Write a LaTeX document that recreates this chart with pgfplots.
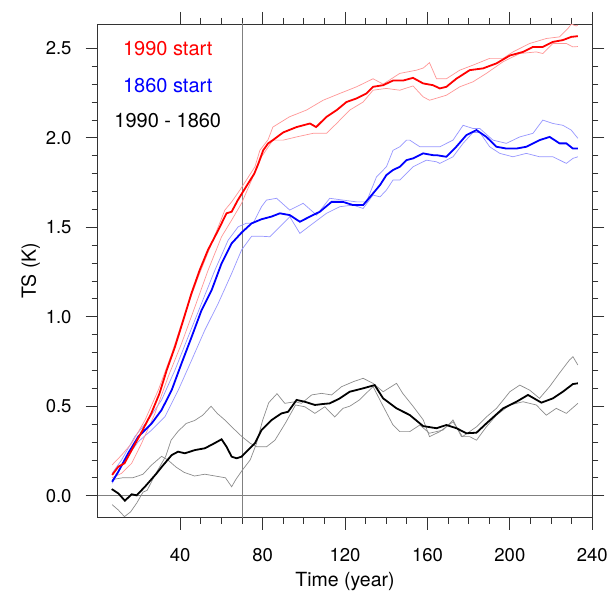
\documentclass[border=0pt]{standalone}
\usepackage{fontspec}
\setmainfont{TeX Gyre Heros}
\usepackage{pgfplots}
\pgfplotsset{compat=1.18}
\definecolor{lred}{RGB}{255,150,150}
\definecolor{lblue}{RGB}{150,150,255}
\definecolor{lgray}{RGB}{140,140,140}
\begin{document}
\begin{tikzpicture}
\useasboundingbox (-97.7pt,-74.3pt) rectangle (512.3pt,517.7pt);
\begin{axis}[
  at={(0pt,0pt)}, anchor=south west,
  scale only axis, width=494.6pt, height=493.7pt,
  xmin=0, xmax=240, ymin=-0.123, ymax=2.636,
  xtick={40,80,...,240}, minor x tick num=3,
  ytick={0,0.5,...,2.5}, minor y tick num=4,
  tick align=outside, major tick length=12pt, minor tick length=6pt,
  axis line style={black!80, line width=0.8pt},
  every tick/.style={black!80, line width=0.8pt},
  /pgf/number format/assume math mode=true,
  yticklabel style={/pgf/number format/fixed, /pgf/number format/fixed zerofill, /pgf/number format/precision=1, font=\fontsize{18.5}{20}\selectfont, anchor=east, inner sep=0pt, xshift=-14pt},
  xticklabel style={font=\fontsize{18.5}{20}\selectfont, anchor=base, inner sep=0pt, yshift=-32pt},
  xlabel={Time (year)}, ylabel={TS (K)},
  every axis x label/.style={at={(axis description cs:0.5,0)}, anchor=base, font=\fontsize{19.5}{22}\selectfont, yshift=-69pt},
  every axis y label/.style={at={(axis description cs:0,0.5)}, anchor=center, rotate=90, font=\fontsize{19.5}{22}\selectfont, yshift=67pt},
  clip=true,
]
% reference lines
\addplot[black!50, line width=0.6pt] coordinates {(0,0) (240,0)};
\addplot[black!50, line width=0.6pt] coordinates {(70,-0.2) (70,2.7)};

% black thin
\addplot[lgray, line width=0.7pt] coordinates {
(7,-0.05) (10,-0.08) (13,-0.117) (16,-0.09) (19,-0.04) (22,0.02) (24,0.03) (28,0.12) (30,0.16) (33,0.22) (35.6,0.31) (39,0.36) (43,0.404) (47,0.42) (51,0.45) (55,0.5) (58,0.46) (62,0.42) (65,0.385) (70,0.33) (74,0.293) (77,0.274) (82,0.274) (86,0.31) (91,0.404) (96,0.507) (100.5,0.497) (105.4,0.46) (110.2,0.497) (115,0.44) (119,0.488) (122.3,0.5) (127,0.535) (133.6,0.61) (138.5,0.5) (143.3,0.395) (146.6,0.358) (151.4,0.358) (156.3,0.395) (161,0.349) (167.6,0.367) (172.4,0.423) (176.5,0.33) (180.5,0.33) (183.8,0.31) (188.6,0.385) (193.5,0.45) (200,0.507) (206.4,0.525) (212.8,0.507) (217.7,0.45) (222.5,0.488) (227.4,0.46) (233,0.516)};
\addplot[lgray, line width=0.7pt] coordinates {
(7,0.09) (12,0.1) (17,0.1) (22,0.12) (26,0.17) (31,0.22) (34,0.2) (38,0.16) (42,0.13) (47,0.11) (52,0.12) (57,0.11) (62,0.1) (65,0.05) (67,0.09) (70,0.14) (74,0.2) (77,0.29) (80,0.42) (83,0.52) (87,0.57) (90.8,0.516) (95.7,0.525) (98.9,0.516) (103.8,0.563) (108.6,0.572) (113.5,0.563) (118.3,0.609) (124,0.637) (128.8,0.656) (133.6,0.628) (138.5,0.581) (145,0.628) (148,0.572) (153,0.5) (158,0.423) (161,0.33) (166,0.358) (172.4,0.413) (177,0.33) (183.8,0.385) (188.6,0.44) (193.5,0.488) (200,0.581) (204.8,0.618) (209.6,0.59) (214.4,0.544) (219.3,0.61) (224,0.684) (228.9,0.758) (230.6,0.777) (233,0.73)};

% blue thin
\addplot[lblue, line width=0.7pt] coordinates {
(7,0.125) (11.6,0.2) (18,0.33) (24.5,0.423) (31,0.535) (37.5,0.702) (43.9,0.888) (50.4,1.075) (56.9,1.261) (63.3,1.428) (68.2,1.503) (72,1.522) (75.4,1.522) (79.5,1.615) (81.9,1.652) (86.8,1.662) (93.2,1.596) (99.7,1.634) (106.2,1.568) (112.6,1.662) (119,1.652) (125.6,1.642) (130.4,1.642) (135.3,1.782) (140.1,1.838) (143.3,1.93) (146.6,1.95) (149.8,1.987) (151.4,1.987) (156.3,1.95) (162.7,1.95) (166,1.95) (172.4,1.987) (177.3,2.07) (182.1,2.052) (185.4,2.052) (191.8,1.987) (198.3,1.969) (204.8,2.005) (211.2,2.025) (216,2.099) (220.9,2.08) (225.7,2.07) (229.8,2.043) (233,1.997)};
\addplot[lblue, line width=0.7pt] coordinates {
(7,0.069) (13.2,0.2) (19.7,0.302) (26.2,0.367) (32.6,0.441) (39.1,0.59) (45.6,0.758) (52,0.926) (58.5,1.075) (65,1.242) (69.8,1.373) (74.7,1.45) (79.5,1.45) (83.5,1.447) (88.4,1.503) (93.2,1.559) (98.1,1.466) (104.5,1.522) (111,1.578) (117.5,1.615) (123.9,1.624) (128.8,1.605) (133.6,1.68) (137,1.67) (140.1,1.708) (143.3,1.764) (146.6,1.764) (153,1.838) (159.5,1.875) (164.4,1.866) (166,1.857) (172.4,1.894) (177.3,1.969) (182.1,2.03) (185.4,2.03) (190.2,1.95) (195.1,1.913) (201.5,1.894) (208,1.913) (214.4,1.894) (220.9,1.894) (227.4,1.857) (230.6,1.885) (233,1.894)};

% red thin
\addplot[lred, line width=0.7pt] coordinates {
(7,0.172) (11.6,0.227) (16.5,0.293) (23,0.423) (29.4,0.59) (36,0.796) (42.3,1.019) (48.8,1.223) (55.3,1.41) (61.7,1.596) (65,1.642) (69,1.708) (76.3,1.838) (78.7,1.93) (82.7,1.99) (85,2.06) (93,2.117) (101.3,2.155) (109.4,2.21) (117.5,2.248) (125.6,2.285) (133.6,2.33) (138.5,2.30) (146.6,2.36) (154.7,2.378) (158,2.39) (161,2.42) (164.4,2.33) (169.2,2.33) (175.7,2.378) (182.1,2.406) (190.2,2.444) (196.7,2.444) (201.5,2.48) (209.6,2.527) (217.7,2.555) (224.1,2.564) (228.2,2.611) (229.8,2.635) (232.2,2.625) (233,2.63)};
\addplot[lred, line width=0.7pt] coordinates {
(7,0.1) (11.6,0.125) (16.5,0.181) (21.3,0.293) (27.8,0.46) (34.2,0.665) (40.7,0.851) (47.2,1.056) (53.6,1.261) (60.1,1.447) (65,1.54) (69.8,1.634) (74.7,1.764) (79.5,1.894) (85,1.987) (90,1.987) (96.5,2.005) (104.5,2.025) (111,2.025) (115.9,2.08) (122.3,2.155) (128.8,2.2) (133.6,2.266) (140,2.276) (146.6,2.266) (153,2.29) (157.9,2.229) (161,2.21) (164,2.22) (169.2,2.238) (175.7,2.285) (182.1,2.313) (188.6,2.36) (196.7,2.425) (204.8,2.471) (212.8,2.48) (216,2.471) (220.9,2.527) (227.4,2.527) (230.6,2.508) (233,2.51)};

% black thick
\addplot[black, line width=1.8pt] coordinates {
(6.8,0.037) (10,0.013) (13.2,-0.028) (16.5,0.008) (18.9,0.002) (22.9,0.05) (28.6,0.125) (31,0.16) (35.9,0.227) (39,0.246) (42.3,0.237) (47.2,0.255) (52,0.265) (56,0.289) (60.1,0.315) (62.5,0.274) (65,0.218) (67.4,0.209) (69.8,0.218) (73,0.255) (76.3,0.293) (79.5,0.367) (84.4,0.423) (89.2,0.46) (92.4,0.469) (96.5,0.535) (100.5,0.525) (105.4,0.507) (109,0.512) (112.6,0.516) (117.5,0.544) (122.3,0.581) (128.8,0.6) (134.4,0.618) (138.5,0.544) (145,0.488) (151.4,0.451) (157.9,0.389) (164.4,0.377) (169.2,0.395) (174.1,0.377) (178.9,0.349) (183.8,0.352) (188.6,0.404) (196.7,0.488) (203.2,0.525) (208.8,0.563) (215.3,0.52) (220.9,0.544) (225.7,0.581) (230.6,0.624) (233,0.628)};

% blue thick
\addplot[blue, line width=1.8pt] coordinates {
(7,0.078) (10,0.134) (14.8,0.237) (19.7,0.33) (26.2,0.404) (31,0.479) (35.9,0.59) (40.7,0.74) (45.6,0.888) (50.4,1.037) (55.3,1.149) (60.1,1.298) (65,1.41) (69.8,1.47) (74.7,1.522) (79.5,1.545) (84.4,1.56) (88.4,1.578) (93.2,1.568) (98.1,1.531) (102.9,1.559) (107.8,1.587) (113.5,1.642) (119,1.642) (123.9,1.624) (128.8,1.624) (133.6,1.689) (137,1.736) (140.1,1.792) (143.3,1.82) (146.6,1.838) (149.8,1.875) (153,1.885) (157.9,1.913) (162.7,1.903) (164.4,1.903) (169.2,1.894) (174,1.95) (178.9,2.015) (183.8,2.043) (188.6,2.005) (193.5,1.95) (198.3,1.94) (203.2,1.94) (208,1.95) (214.4,1.987) (219.3,2.005) (224.1,1.969) (227.4,1.969) (230.6,1.94) (233,1.94)};

% red thick
\addplot[red, line width=1.8pt] coordinates {
(7,0.116) (10,0.162) (13,0.181) (16.5,0.255) (21,0.349) (26,0.46) (30,0.572) (33.5,0.702) (37.5,0.832) (41.5,0.98) (45.5,1.131) (49.5,1.261) (53.5,1.373) (58.5,1.484) (62.5,1.578) (65,1.587) (68,1.652) (73,1.745) (76,1.8) (78,1.857) (80.3,1.93) (82.7,1.969) (85,1.987) (90,2.03) (96.5,2.06) (103,2.08) (106,2.06) (111,2.117) (116,2.155) (120.7,2.2) (125.6,2.22) (130.4,2.248) (133.6,2.285) (138.5,2.294) (143.3,2.32) (148.2,2.32) (153,2.335) (157.9,2.304) (162.7,2.294) (166,2.276) (169.2,2.285) (174,2.33) (180.5,2.378) (187,2.388) (193.5,2.416) (200,2.46) (206.4,2.48) (211.2,2.508) (216,2.508) (220.9,2.536) (225.7,2.546) (229.8,2.564) (233,2.568)};

\node[red, font=\fontsize{20}{22}\selectfont, anchor=center] at (axis cs:34,2.5) {1990 start};
\node[blue, font=\fontsize{20}{22}\selectfont, anchor=center] at (axis cs:34,2.294) {1860 start};
\node[black, font=\fontsize{20}{22}\selectfont, anchor=center] at (axis cs:34,2.098) {1990 - 1860};
\end{axis}
\end{tikzpicture}
\end{document}
